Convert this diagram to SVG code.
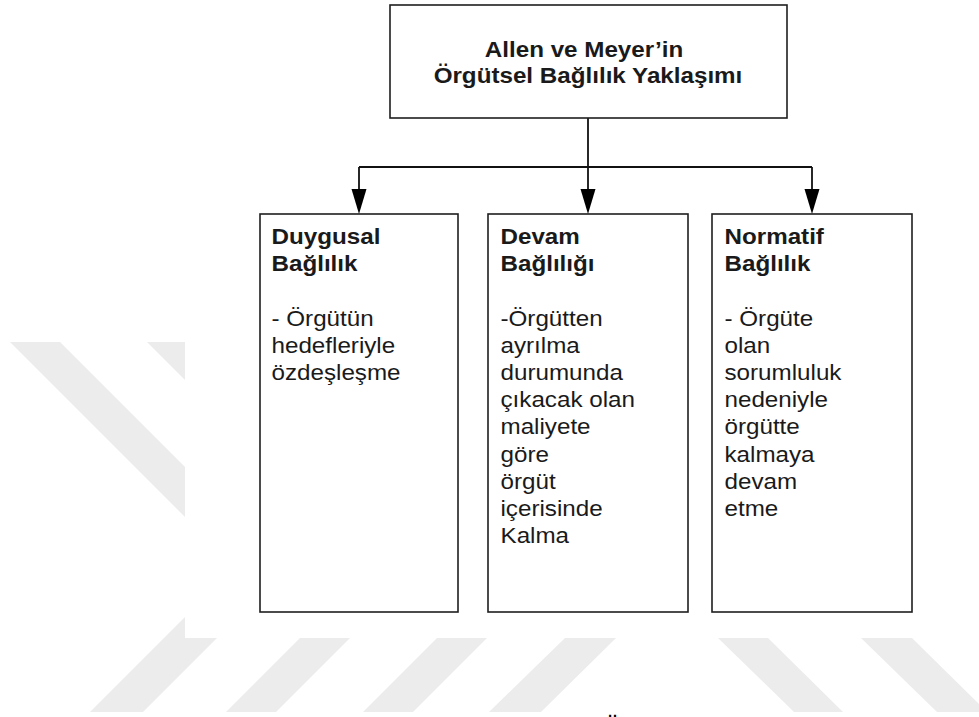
<svg xmlns="http://www.w3.org/2000/svg" width="979" height="717" viewBox="0 0 979 717">
<defs>
<style>
.wm{fill:#ececec;stroke:none}
.box{fill:#ffffff;stroke:#1e1e1e;stroke-width:1.6}
.ln{fill:none;stroke:#111111;stroke-width:1.8}
.ah{fill:#000000;stroke:none}
text{font-family:"Liberation Sans",Arial,sans-serif;font-size:22px;fill:#1a1a1a}
.b{font-weight:bold}
</style>
</defs>
<rect x="0" y="0" width="979" height="717" fill="#ffffff"/>
<g id="watermark">
<polygon class="wm" points="10,342 60,342 185,467 185,517"/>
<polygon class="wm" points="147,342 185,342 185,380"/>
<polygon class="wm" points="90,712 143,712 217,638 185,638 185,617"/>
<polygon class="wm" points="226,712 276,712 350,638 300,638"/>
<polygon class="wm" points="363,712 413,712 487,638 437,638"/>
<polygon class="wm" points="489,712 541,712 616,638 565,638"/>
<polygon class="wm" points="718,638 768,638 843,712 794,712"/>
<polygon class="wm" points="861,638 912,638 987,712 937,712"/>
</g>
<g id="connectors">
<line class="ln" x1="588" y1="118" x2="588" y2="167"/>
<line class="ln" x1="359" y1="167" x2="812" y2="167"/>
<line class="ln" x1="359" y1="167" x2="359" y2="192"/>
<line class="ln" x1="588" y1="167" x2="588" y2="192"/>
<line class="ln" x1="812" y1="167" x2="812" y2="192"/>
<polygon class="ah" points="351.5,189 366.5,189 359,214"/>
<polygon class="ah" points="580.5,189 595.5,189 588,214"/>
<polygon class="ah" points="804.5,189 819.5,189 812,214"/>
</g>
<g id="root">
<rect class="box" x="390" y="5" width="397" height="113"/>
<text class="b" text-anchor="middle" transform="translate(588,57) scale(1.1,1)"><tspan x="-3.6" y="0">Allen ve Meyer’in</tspan><tspan x="0" y="26">Örgütsel Bağlılık Yaklaşımı</tspan></text>
</g>
<g id="duygusal">
<rect class="box" x="260" y="214" width="198" height="398"/>
<text transform="translate(271.5,244) scale(1.1,1)"><tspan class="b" x="0" y="0">Duygusal</tspan><tspan class="b" x="0" y="27.2">Bağlılık</tspan><tspan x="0" y="81.6">- Örgütün</tspan><tspan x="0" y="108.8">hedefleriyle</tspan><tspan x="0" y="136">özdeşleşme</tspan></text>
</g>
<g id="devam">
<rect class="box" x="488" y="214" width="200" height="398"/>
<text transform="translate(500.5,244) scale(1.1,1)"><tspan class="b" x="0" y="0">Devam</tspan><tspan class="b" x="0" y="27.2">Bağlılığı</tspan><tspan x="0" y="81.6">-Örgütten</tspan><tspan x="0" y="108.8">ayrılma</tspan><tspan x="0" y="136">durumunda</tspan><tspan x="0" y="163.2">çıkacak olan</tspan><tspan x="0" y="190.4">maliyete</tspan><tspan x="0" y="217.6">göre</tspan><tspan x="0" y="244.8">örgüt</tspan><tspan x="0" y="272">içerisinde</tspan><tspan x="0" y="299.2">Kalma</tspan></text>
</g>
<g id="normatif">
<rect class="box" x="712" y="214" width="200" height="398"/>
<text transform="translate(724.5,244) scale(1.1,1)"><tspan class="b" x="0" y="0">Normatif</tspan><tspan class="b" x="0" y="27.2">Bağlılık</tspan><tspan x="0" y="81.6">- Örgüte</tspan><tspan x="0" y="108.8">olan</tspan><tspan x="0" y="136">sorumluluk</tspan><tspan x="0" y="163.2">nedeniyle</tspan><tspan x="0" y="190.4">örgütte</tspan><tspan x="0" y="217.6">kalmaya</tspan><tspan x="0" y="244.8">devam</tspan><tspan x="0" y="272">etme</tspan></text>
</g>
<text class="b" text-anchor="middle" x="612.5" y="734" style="fill:#000">Ö</text>
</svg>
